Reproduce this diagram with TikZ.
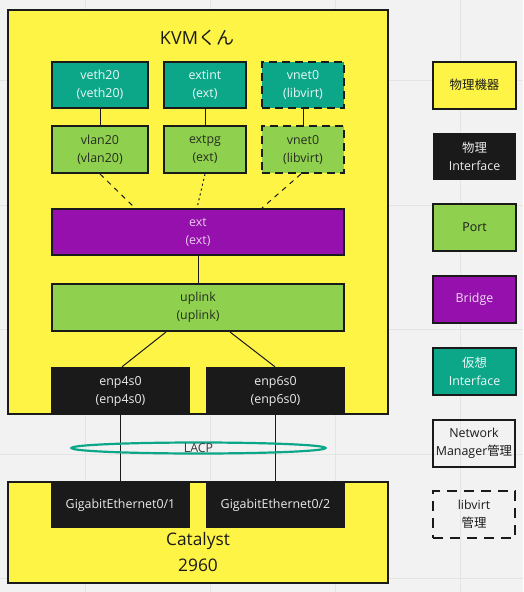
\documentclass[tikz,border=0pt]{standalone}
\usepackage{fontspec}
\setmainfont{Open Sans}
\newfontfamily\jp{Noto Sans CJK JP}
\definecolor{bgc}{HTML}{F2F2F2}
\definecolor{gridc}{HTML}{E4E4E4}
\definecolor{hwyellow}{HTML}{FEF445}
\definecolor{ifblack}{HTML}{1A1A1A}
\definecolor{portgreen}{HTML}{8FD14F}
\definecolor{brpurple}{HTML}{9510AC}
\definecolor{vteal}{HTML}{0CA789}
\definecolor{edge}{HTML}{1A1A1A}
\tikzset{
  x=1pt, y=-1pt,
  lbl/.style={font=\fontsize{12.4}{18}\selectfont, align=center, inner sep=0pt},
  boxbase/.style={lbl, line width=2pt, draw=edge, minimum width=#1},
  boxbase/.default=82pt,
  teal box/.style={boxbase=#1, fill=vteal, text=white!92!vteal, minimum height=46pt},
  teal box/.default=82pt,
  green box/.style={boxbase=#1, fill=portgreen, text=edge!90!portgreen, minimum height=47pt},
  green box/.default=82pt,
  purple box/.style={boxbase=#1, fill=brpurple, text=white!78!brpurple, minimum height=46pt},
  purple box/.default=82pt,
  phys box/.style={lbl, fill=ifblack, text=white!92!black, minimum width=139pt, minimum height=#1},
  phys box/.default=48pt,
  hw box/.style={line width=2pt, draw=edge, fill=hwyellow, inner sep=0pt},
  libv/.style={dash pattern=on 8pt off 5pt},
  conn/.style={draw=edge, line width=1pt},
  legend/.style={lbl, minimum width=83pt, minimum height=47pt, line width=2pt},
}
\begin{document}
\begin{tikzpicture}
\useasboundingbox (0,0) rectangle (523,592);
\fill[bgc] (0,0) rectangle (523,592);
% grid
\foreach \gx in {85,210,335,460} \draw[gridc, line width=1pt] (\gx,0) -- (\gx,592);
\foreach \gy in {80,205,329,454,578} \draw[gridc, line width=1pt] (0,\gy) -- (523,\gy);

% KVM host
\node[hw box, minimum width=380pt, minimum height=404pt] (kvm) at (198,212) {};
\node[inner sep=0pt, font=\fontsize{18}{22}\selectfont, text=edge] (kvmtitle) at (197,38) {KVM{\jp くん}};

\node[teal box=96pt] (veth20) at (100,85) {veth20\\(veth20)};
\node[teal box] (extint) at (205,85) {extint\\(ext)};
\node[teal box, libv] (vnetA) at (303,85) {vnet0\\(libvirt)};

\node[green box=96pt] (vlan20) at (100,149.5) {vlan20\\(vlan20)};
\node[green box] (extpg) at (205,149.5) {extpg\\(ext)};
\node[green box, libv] (vnetB) at (303,149.5) {vnet0\\(libvirt)};

\node[purple box=292pt] (ext) at (198,232) {ext\\(ext)};
\node[green box=292pt] (uplink) at (198,307.5) {uplink\\(uplink)};

\node[phys box] (enp4) at (120.5,391) {enp4s0\\(enp4s0)};
\node[phys box] (enp6) at (275.5,391) {enp6s0\\(enp6s0)};

% Catalyst
\node[hw box, minimum width=380pt, minimum height=101pt] (cat) at (198,532.5) {};
\node[phys box=45pt] (ge1) at (120.5,505.5) {GigabitEthernet0/1};
\node[phys box=45pt] (ge2) at (275.5,505.5) {GigabitEthernet0/2};
\node[inner sep=0pt, align=center, font=\fontsize{17.3}{26}\selectfont, text=edge] (cattext) at (198,552) {Catalyst\\2960};

% connectors
\draw[conn] (veth20.south) -- (vlan20.north);
\draw[conn] (extint.south) -- (extpg.north);
\draw[conn] (vnetA.south) -- (vnetB.north);
\draw[conn, dash pattern=on 5pt off 5pt] (vlan20.south) -- ([xshift=-63pt]ext.north);
\draw[conn, dash pattern=on 2pt off 3pt] (extpg.south) -- ([xshift=-1pt]ext.north);
\draw[conn, dash pattern=on 5pt off 5pt] ([xshift=-2pt]vnetB.south) -- ([xshift=64pt]ext.north);
\draw[conn] (ext.south) -- (uplink.north);
\draw[conn] ([xshift=-32pt]uplink.south) -- ([xshift=1.5pt]enp4.north);
\draw[conn] ([xshift=32pt]uplink.south) -- ([xshift=-0.5pt]enp6.north);
\draw[conn] (enp4.south) -- (ge1.north);
\draw[conn] (enp6.south) -- (ge2.north);

% LACP
\draw[vteal, line width=2.2pt] (198.5,448) ellipse [x radius=127pt, y radius=5.5pt];
\node[lbl, text=edge!85!white] (lacp) at (198.5,448) {LACP};

% legend
\node[legend, draw=edge, fill=hwyellow, text=edge] (lgHW) at (474.5,85) {{\jp 物理機器}};
\node[legend, fill=ifblack, text=white!92!black] (lgIF) at (474.5,156.5) {{\jp 物理}\\Interface};
\node[legend, draw=edge, fill=portgreen, text=edge] (lgPort) at (474.5,227.5) {Port};
\node[legend, draw=edge, fill=brpurple, text=white!85!brpurple] (lgBr) at (474.5,299) {Bridge};
\node[legend, draw=edge, fill=vteal, text=white!92!vteal] (lgV) at (474.5,371) {{\jp 仮想}\\Interface};
\node[legend, draw=edge, minimum width=82pt, text=edge] (lgNM) at (474,443.5) {Network\\Manager{\jp 管理}};
\node[legend, draw=edge, minimum width=82pt, dash pattern=on 10pt off 7pt, text=edge] (lgLV) at (474,514.5) {libvirt\\{\jp 管理}};
\end{tikzpicture}
\end{document}
